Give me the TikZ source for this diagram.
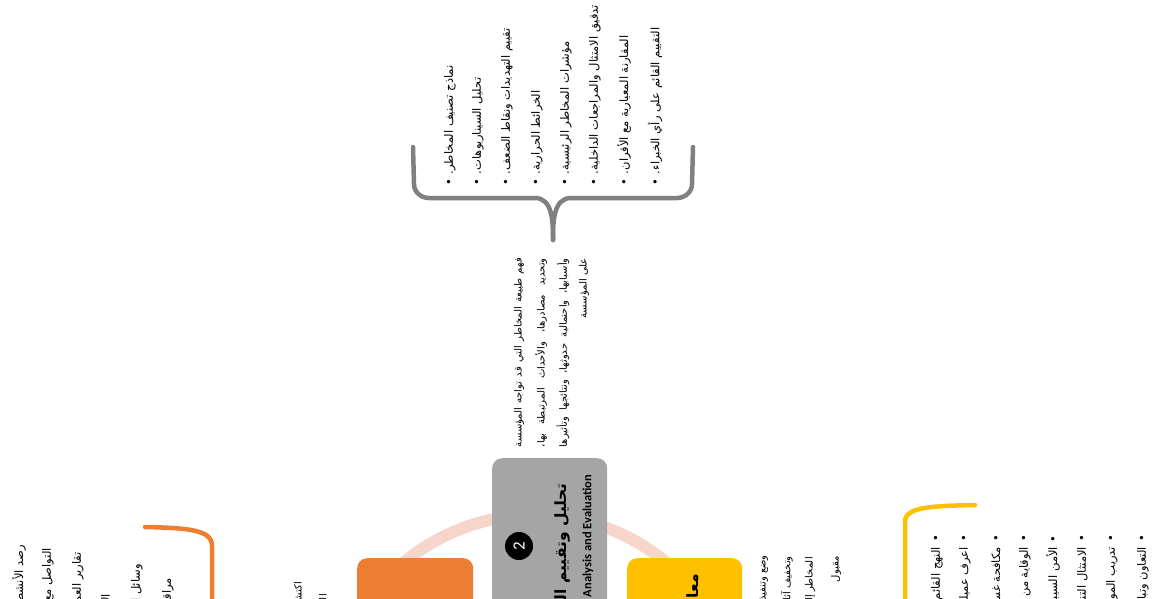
\documentclass[tikz,border=0pt]{standalone}
\usepackage{fontspec}
\setmainfont{Carlito}
\newfontfamily\arabicfont[Script=Arabic]{DejaVu Sans}
\TeXXeTstate=1
\definecolor{grbox}{HTML}{A5A5A5}
\definecolor{orbox}{HTML}{ED7D31}
\definecolor{yebox}{HTML}{FFC000}
\definecolor{ringc}{HTML}{F8D5CB}
\definecolor{bracec}{HTML}{808080}
\tikzset{
  vtext/.style={rotate=90, inner sep=0pt, font=\arabicfont\fontsize{11.5}{14}\selectfont},
  vdesc/.style={rotate=90, inner sep=0pt, font=\arabicfont\fontsize{10}{12}\selectfont},
  vtitle/.style={rotate=90, inner sep=0pt, font=\arabicfont\bfseries\fontsize{15.5}{18}\selectfont},
  boxshape/.style={draw=none, rounded corners=10pt, minimum width=115pt, minimum height=200pt, anchor=north west, inner sep=0pt},
  bracel/.style={line width=4.5pt, line cap=round, line join=round}
}
\begin{document}
\begin{tikzpicture}[x=1pt,y=-1pt]
\useasboundingbox (0,0) rectangle (1155,598);
\clip (0,0) rectangle (1155,598);
% ring
\draw[ringc, line width=12pt] (535,720) circle[radius=205pt];
% boxes
\node[boxshape, fill=grbox] (b2) at (492,458) {};
\node[boxshape, fill=orbox, minimum width=116pt] (b1) at (357,558) {};
\node[boxshape, fill=yebox] (b3) at (627,558) {};
% box 2 content
\node[circle, fill=black, minimum size=28pt, inner sep=0pt, text=white, rotate=90, font=\fontsize{17}{17}\selectfont] (n2) at (519,546) {2};
\node[vtitle, anchor=east] (t2) at (562,483) {\beginR تحليل وتقييم الخطر\endR};
\node[rotate=90, inner sep=0pt, anchor=east, font=\bfseries\fontsize{12.5}{14}\selectfont] (e2) at (588,475) {Analysis and Evaluation};
% box 3 title
\node[vtitle, anchor=east] (t3) at (694,574) {\beginR معالجة الخطر\endR};
% description of box 2
\node[vdesc, anchor=east] (d1) at (519,258) {\hbox to 189pt{\beginR فهم طبيعة المخاطر التي قد تواجه المؤسسة\endR}};
\node[vdesc, anchor=east] (d2) at (541,258) {\hbox to 189pt{\beginR وتحديد مصادرها، والأحداث المرتبطة بها،\endR}};
\node[vdesc, anchor=east] (d3) at (563,258) {\hbox to 189pt{\beginR وأسبابها، واحتمالية حدوثها، ونتائجها وتأثيرها\endR}};
\node[vdesc, anchor=east] (d4) at (584,258) {\beginR على المؤسسة\endR};
% brace
\coordinate (bl) at (413,147);
\coordinate (br) at (693,147);
\coordinate (bt) at (553,240);
\draw[bracec, bracel] (bl) -- (414,184) to[out=-90,in=180] (429,198) -- (535,198) to[out=0,in=90] (bt);
\draw[bracec, bracel] (br) -- (692,184) to[out=-90,in=0] (677,198) -- (571,198) to[out=180,in=90] (bt);
% top list
\node[vtext, anchor=west] (l1) at (450,186) {•\hspace{5pt}\beginR نماذج تصنيف المخاطر.\endR};
\node[vtext, anchor=west] (l2) at (478,186) {•\hspace{5pt}\beginR تحليل السيناريوهات.\endR};
\node[vtext, anchor=west] (l3) at (507,186) {•\hspace{5pt}\beginR تقييم التهديدات ونقاط الضعف.\endR};
\node[vtext, anchor=west] (l4) at (537,186) {•\hspace{5pt}\beginR الخرائط الحرارية.\endR};
\node[vtext, anchor=west] (l5) at (566,186) {•\hspace{5pt}\beginR مؤشرات المخاطر الرئيسية.\endR};
\node[vtext, anchor=west] (l6) at (595,186) {•\hspace{5pt}\beginR تدقيق الامتثال والمراجعات الداخلية.\endR};
\node[vtext, anchor=west] (l7) at (624,186) {•\hspace{5pt}\beginR المقارنة المعيارية مع الأقران.\endR};
\node[vtext, anchor=west] (l8) at (655,186) {•\hspace{5pt}\beginR التقييم القائم على رأي الخبراء.\endR};
% orange bracket
\coordinate (ob) at (145,527);
\draw[orbox, bracel] (ob) .. controls (190,528) and (212,530) .. (212,546) -- (212,610);
% yellow bracket
\coordinate (yb) at (975,505);
\draw[yebox, bracel] (yb) .. controls (930,506) and (905,507) .. (905,522) -- (905,610);
% left list
\node[vtext, anchor=east] (o1) at (19,545) {\beginR رصد الأنشطة المشبوهة\endR};
\node[vtext, anchor=east] (o2) at (48,548) {\beginR التواصل مع الجهات المعنية\endR};
\node[vtext, anchor=east] (o3) at (78,552) {\beginR تقارير العمليات المشبوهة\endR};
\node[vtext, anchor=east] (o4) at (107,594) {\beginR الإبلاغ الفوري\endR};
\node[vtext, anchor=east] (o5) at (137,564) {\beginR وسائل المتابعة\endR};
\node[vtext, anchor=east] (o6) at (168,578) {\beginR مراقبة مستمرة\endR};
% box 1 description
\node[vdesc, anchor=east] (p1) at (299,582) {\beginR اكتشاف المخاطر\endR};
\node[vdesc, anchor=east] (p2) at (323,594) {\beginR الناشئة\endR};
% box 3 description
\node[vdesc, anchor=east] (q1) at (763,555) {\beginR وضع وتنفيذ الخطط والإجراءات\endR};
\node[vdesc, anchor=east] (q2) at (787,556) {\beginR وتخفيف آثار المخاطر\endR};
\node[vdesc, anchor=east] (q3) at (810,557) {\beginR المخاطر إلى مستوى\endR};
\node[vdesc, anchor=east] (q4) at (836,556) {\beginR مقبول\endR};
% right list
\node[vtext, anchor=east] (r1) at (937,535) {\beginR •\hspace{5pt}النهج القائم على المخاطر\endR};
\node[vtext, anchor=east] (r2) at (965,535) {\beginR •\hspace{5pt}اعرف عميلك\endR};
\node[vtext, anchor=east] (r3) at (996,535) {\beginR •\hspace{5pt}مكافحة غسل الأموال\endR};
\node[vtext, anchor=east] (r4) at (1025,535) {\beginR •\hspace{5pt}الوقاية من الاحتيال\endR};
\node[vtext, anchor=east] (r5) at (1053,535) {\beginR •\hspace{5pt}الأمن السيبراني\endR};
\node[vtext, anchor=east] (r6) at (1083,535) {\beginR •\hspace{5pt}الامتثال التنظيمي\endR};
\node[vtext, anchor=east] (r7) at (1112,535) {\beginR •\hspace{5pt}تدريب الموظفين\endR};
\node[vtext, anchor=east] (r8) at (1143,535) {\beginR •\hspace{5pt}التعاون وتبادل المعلومات\endR};
\end{tikzpicture}
\end{document}
